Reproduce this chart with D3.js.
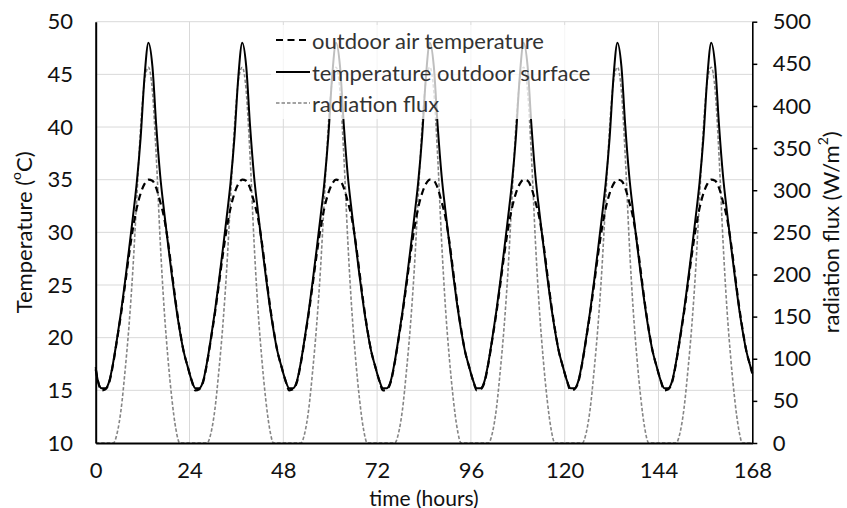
<!DOCTYPE html>
<html>
<head>
<meta charset="utf-8">
<script src="https://cdn.jsdelivr.net/npm/d3@7"></script>
<style>
  html, body { margin: 0; padding: 0; background: #fff; }
  svg { display: block; font-family: Lato, "Open Sans", sans-serif; }
</style>
</head>
<body>
<svg id="chart" width="847" height="508"></svg>
<script>
// ---------------- DATA ----------------
// sample times (hours): 0, 0.5, 1.5, ... 167.5, 168
const hours = [0].concat(d3.range(0.5, 168, 1), [168]);

// outdoor surface temperature (°C)
const surfaceTemp = [17.2,
  16.0, 15.2, 15.2, 15.9, 17.7, 20.0, 22.5, 25.3, 28.3, 31.4, 34.7, 39.0, 44.8, 48.0, 45.8, 40.1, 35.4, 32.0, 28.9, 25.9, 23.1, 20.7, 18.7, 17.3,
  16.0, 15.2, 15.2, 15.9, 17.7, 20.0, 22.5, 25.3, 28.3, 31.4, 34.7, 39.0, 44.8, 48.0, 45.8, 40.1, 35.4, 32.0, 28.9, 25.9, 23.1, 20.7, 18.7, 17.3,
  16.0, 15.2, 15.2, 15.9, 17.7, 20.0, 22.5, 25.3, 28.3, 31.4, 34.7, 39.0, 44.8, 48.0, 45.8, 40.1, 35.4, 32.0, 28.9, 25.9, 23.1, 20.7, 18.7, 17.3,
  16.0, 15.2, 15.2, 15.9, 17.7, 20.0, 22.5, 25.3, 28.3, 31.4, 34.7, 39.0, 44.8, 48.0, 45.8, 40.1, 35.4, 32.0, 28.9, 25.9, 23.1, 20.7, 18.7, 17.3,
  16.0, 15.2, 15.2, 15.9, 17.7, 20.0, 22.5, 25.3, 28.3, 31.4, 34.7, 39.0, 44.8, 48.0, 45.8, 40.1, 35.4, 32.0, 28.9, 25.9, 23.1, 20.7, 18.7, 17.3,
  16.0, 15.2, 15.2, 15.9, 17.7, 20.0, 22.5, 25.3, 28.3, 31.4, 34.7, 39.0, 44.8, 48.0, 45.8, 40.1, 35.4, 32.0, 28.9, 25.9, 23.1, 20.7, 18.7, 17.3,
  16.0, 15.2, 15.2, 15.9, 17.7, 20.0, 22.5, 25.3, 28.3, 31.4, 34.7, 39.0, 44.8, 48.0, 45.8, 40.1, 35.4, 32.0, 28.9, 25.9, 23.1, 20.7, 18.7, 17.3,
  16.7];

// outdoor air temperature (°C)
const airTemp = [17.0,
  16.0, 15.0, 15.1, 15.8, 17.6, 19.9, 22.3, 25.0, 27.8, 30.3, 32.3, 33.7, 34.6, 35.0, 34.9, 34.2, 32.9, 31.4, 29.1, 26.2, 23.3, 20.8, 18.7, 17.3,
  16.0, 15.0, 15.1, 15.8, 17.6, 19.9, 22.3, 25.0, 27.8, 30.3, 32.3, 33.7, 34.6, 35.0, 34.9, 34.2, 32.9, 31.4, 29.1, 26.2, 23.3, 20.8, 18.7, 17.3,
  16.0, 15.0, 15.1, 15.8, 17.6, 19.9, 22.3, 25.0, 27.8, 30.3, 32.3, 33.7, 34.6, 35.0, 34.9, 34.2, 32.9, 31.4, 29.1, 26.2, 23.3, 20.8, 18.7, 17.3,
  16.0, 15.0, 15.1, 15.8, 17.6, 19.9, 22.3, 25.0, 27.8, 30.3, 32.3, 33.7, 34.6, 35.0, 34.9, 34.2, 32.9, 31.4, 29.1, 26.2, 23.3, 20.8, 18.7, 17.3,
  16.0, 15.0, 15.1, 15.8, 17.6, 19.9, 22.3, 25.0, 27.8, 30.3, 32.3, 33.7, 34.6, 35.0, 34.9, 34.2, 32.9, 31.4, 29.1, 26.2, 23.3, 20.8, 18.7, 17.3,
  16.0, 15.0, 15.1, 15.8, 17.6, 19.9, 22.3, 25.0, 27.8, 30.3, 32.3, 33.7, 34.6, 35.0, 34.9, 34.2, 32.9, 31.4, 29.1, 26.2, 23.3, 20.8, 18.7, 17.3,
  16.0, 15.0, 15.1, 15.8, 17.6, 19.9, 22.3, 25.0, 27.8, 30.3, 32.3, 33.7, 34.6, 35.0, 34.9, 34.2, 32.9, 31.4, 29.1, 26.2, 23.3, 20.8, 18.7, 17.3,
  16.6];

// radiation flux (W/m²)
const radiation = [0,
  0, 0, 0, 0, 0, 12, 40, 85, 138, 205, 290, 375, 430, 446, 418, 340, 240, 160, 100, 52, 17, 0, 0, 0,
  0, 0, 0, 0, 0, 12, 40, 85, 138, 205, 290, 375, 430, 446, 418, 340, 240, 160, 100, 52, 17, 0, 0, 0,
  0, 0, 0, 0, 0, 12, 40, 85, 138, 205, 290, 375, 430, 446, 418, 340, 240, 160, 100, 52, 17, 0, 0, 0,
  0, 0, 0, 0, 0, 12, 40, 85, 138, 205, 290, 375, 430, 446, 418, 340, 240, 160, 100, 52, 17, 0, 0, 0,
  0, 0, 0, 0, 0, 12, 40, 85, 138, 205, 290, 375, 430, 446, 418, 340, 240, 160, 100, 52, 17, 0, 0, 0,
  0, 0, 0, 0, 0, 12, 40, 85, 138, 205, 290, 375, 430, 446, 418, 340, 240, 160, 100, 52, 17, 0, 0, 0,
  0, 0, 0, 0, 0, 12, 40, 85, 138, 205, 290, 375, 430, 446, 418, 340, 240, 160, 100, 52, 17, 0, 0, 0,
  0];

const xTicks = [0, 24, 48, 72, 96, 120, 144, 168];
const yLeftTicks = [10, 15, 20, 25, 30, 35, 40, 45, 50];
const yRightTicks = [0, 50, 100, 150, 200, 250, 300, 350, 400, 450, 500];
const legendLabels = ["outdoor air temperature", "temperature outdoor surface", "radiation flux"];

// ---------------- LAYOUT ----------------
const svg = d3.select("#chart");
const X0 = 95.7, X1 = 752.3, Y0 = 443, Y1 = 21.7;
const FS = 22;

const x = d3.scaleLinear().domain([0, 168]).range([X0, X1]);
const yL = d3.scaleLinear().domain([10, 50]).range([Y0, Y1]);
const yR = d3.scaleLinear().domain([0, 500]).range([Y0, Y1]);

const gridColor = "#d9d9d9";
const textColor = "#111";

// gridlines
const grid = svg.append("g");
grid.selectAll("line.h").data(yLeftTicks.filter(d => d > 10)).join("line")
  .attr("x1", X0).attr("x2", X1)
  .attr("y1", d => yL(d)).attr("y2", d => yL(d))
  .attr("stroke", gridColor).attr("stroke-width", 1);
grid.selectAll("line.v").data(xTicks.filter(d => d > 0 && d < 168)).join("line")
  .attr("x1", d => x(d)).attr("x2", d => x(d))
  .attr("y1", Y1).attr("y2", Y0)
  .attr("stroke", gridColor).attr("stroke-width", 1);

// series
const pts = (arr) => hours.map((h, i) => [h, arr[i]]);
const lineL = d3.line().x(d => x(d[0])).y(d => yL(d[1])).curve(d3.curveMonotoneX);
const lineR = d3.line().x(d => x(d[0])).y(d => yR(d[1])).curve(d3.curveMonotoneX);

svg.append("path").datum(pts(radiation)).attr("d", lineR)
  .attr("fill", "none").attr("stroke", "#858585").attr("stroke-width", 1.6)
  .attr("stroke-dasharray", "3.5,2");
svg.append("path").datum(pts(airTemp)).attr("d", lineL)
  .attr("fill", "none").attr("stroke", "#000").attr("stroke-width", 2.2)
  .attr("stroke-dasharray", "7,4.5");
svg.append("path").datum(pts(surfaceTemp)).attr("d", lineL)
  .attr("fill", "none").attr("stroke", "#000").attr("stroke-width", 2);

// axes
const axL = svg.append("g").attr("transform", `translate(${X0},0)`)
  .call(d3.axisLeft(yL).tickValues(yLeftTicks).tickSize(0).tickSizeOuter(0).tickPadding(22.7));
const axR = svg.append("g").attr("transform", `translate(${X1},0)`)
  .call(d3.axisRight(yR).tickValues(yRightTicks).tickSize(5).tickSizeOuter(0).tickPadding(15.5));
const axB = svg.append("g").attr("transform", `translate(0,${Y0})`)
  .call(d3.axisBottom(x).tickValues(xTicks).tickSize(0).tickSizeOuter(0).tickPadding(19));

[axL, axR, axB].forEach(g => {
  g.selectAll("text").attr("font-size", FS).attr("fill", textColor)
    .attr("font-family", "Lato, 'Open Sans', sans-serif");
  g.select(".domain").attr("stroke", "#000").attr("stroke-width", 2);
  g.selectAll(".tick line").attr("stroke", "#000").attr("stroke-width", 1.5);
});
axR.select(".domain").attr("stroke-width", 1.6);

// axis titles
svg.append("text").attr("x", x(84)).attr("y", 497)
  .attr("text-anchor", "middle").attr("dominant-baseline", "central")
  .attr("font-size", 21).attr("fill", textColor).text("time (hours)");

const tL = svg.append("text")
  .attr("transform", `translate(23,${(Y0 + Y1) / 2}) rotate(-90)`)
  .attr("text-anchor", "middle").attr("dominant-baseline", "central")
  .attr("font-size", FS).attr("fill", textColor);
tL.append("tspan").text("Temperature (");
tL.append("tspan").attr("font-size", 14).attr("dy", -8).text("o");
tL.append("tspan").attr("dy", 8).text("C)");

const tR = svg.append("text")
  .attr("transform", `translate(830,${(Y0 + Y1) / 2}) rotate(-90)`)
  .attr("text-anchor", "middle").attr("dominant-baseline", "central")
  .attr("font-size", FS).attr("fill", textColor);
tR.append("tspan").text("radiation flux (W/m");
tR.append("tspan").attr("font-size", 14).attr("dy", -8).text("2");
tR.append("tspan").attr("dy", 8).text(")");

// legend
const lg = svg.append("g");
lg.append("rect").attr("x", 271).attr("y", 25).attr("width", 300).attr("height", 94)
  .attr("fill", "#fff").attr("fill-opacity", 0.75);
const legendStyles = [
  { stroke: "#000", width: 2, dash: "7,4.5" },
  { stroke: "#000", width: 2, dash: null },
  { stroke: "#858585", width: 1.6, dash: "3.5,2" }
];
const legendY = [40, 72, 103];
legendLabels.forEach((lab, i) => {
  const s = legendStyles[i];
  lg.append("line").attr("x1", 276).attr("x2", 310)
    .attr("y1", legendY[i]).attr("y2", legendY[i])
    .attr("stroke", s.stroke).attr("stroke-width", s.width)
    .attr("stroke-dasharray", s.dash);
  lg.append("text").attr("x", 312).attr("y", legendY[i])
    .attr("dominant-baseline", "central").attr("font-size", FS)
    .attr("fill", "#333").text(lab);
});
</script>
</body>
</html>
